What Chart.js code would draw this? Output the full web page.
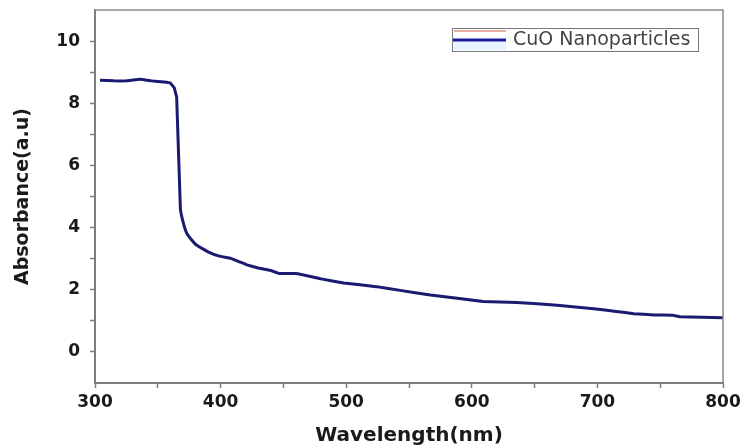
<!DOCTYPE html>
<html>
<head>
<meta charset="utf-8">
<script src="https://cdn.jsdelivr.net/npm/chart.js@4/dist/chart.umd.min.js"></script>
<style>
  html, body { margin: 0; padding: 0; background: #fff; }
  #wrap { width: 742px; height: 448px; }
</style>
</head>
<body>
<div id="wrap"><canvas id="absChart" width="742" height="448"></canvas></div>
<script>
// ── Data ────────────────────────────────────────────────
const wavelengths = [304, 315, 325, 336, 345, 355, 360, 363, 365, 365.5, 366, 366.5, 367, 367.5, 368,
                     370, 373, 377, 381, 390, 399, 408, 415, 421, 430, 440, 447, 460, 480, 498,
                     524, 543, 567, 590, 609, 636, 668, 697, 715, 729, 745, 760, 766, 800];
const absorbance  = [8.74, 8.72, 8.72, 8.77, 8.72, 8.68, 8.65, 8.5, 8.2, 7.6, 7.0, 6.4, 5.8, 5.2, 4.6,
                     4.2, 3.82, 3.6, 3.43, 3.22, 3.08, 3.01, 2.9, 2.8, 2.7, 2.62, 2.52, 2.52, 2.35, 2.22,
                     2.1, 1.98, 1.83, 1.72, 1.62, 1.59, 1.5, 1.39, 1.3, 1.23, 1.19, 1.18, 1.13, 1.1];
const seriesLabel = 'CuO Nanoparticles';

const xTicks = [300, 350, 400, 450, 500, 550, 600, 650, 700, 750, 800];
const xLabels = [300, 400, 500, 600, 700, 800];
const yTicks = [0, 1, 2, 3, 4, 5, 6, 7, 8, 9, 10];
const yLabels = [0, 2, 4, 6, 8, 10];

const axisGray = '#7d7d7d';
const lineColor = '#1a1a70';

// ── Frame + in-plot legend ──────────────────────────────
const framePlugin = {
    id: 'frame',
    afterDraw(chart) {
        const { ctx, chartArea: a } = chart;
        ctx.save();
        ctx.strokeStyle = '#8a8a8a';
        ctx.lineWidth = 1.5;
        ctx.beginPath();
        ctx.moveTo(a.left, a.top);
        ctx.lineTo(a.right, a.top);
        ctx.lineTo(a.right, a.bottom);
        ctx.stroke();

        // legend box
        const bx = 452, by = 28, bw = 246, bh = 23;
        ctx.fillStyle = '#fff';
        ctx.fillRect(bx, by, bw, bh);
        ctx.fillStyle = '#e6f2ff';
        ctx.fillRect(bx + 2, by + 13, 52, bh - 14);
        ctx.strokeStyle = '#d85a50';
        ctx.lineWidth = 1;
        ctx.beginPath();
        ctx.moveTo(bx + 2, by + 3);
        ctx.lineTo(bx + 54, by + 3);
        ctx.stroke();
        ctx.strokeStyle = '#1a1aa0';
        ctx.lineWidth = 3;
        ctx.beginPath();
        ctx.moveTo(bx + 1, by + 12);
        ctx.lineTo(bx + 54, by + 12);
        ctx.stroke();
        ctx.strokeStyle = '#777';
        ctx.lineWidth = 1;
        ctx.strokeRect(bx + 0.5, by + 0.5, bw, bh);
        ctx.fillStyle = '#444';
        ctx.font = '19px "DejaVu Sans"';
        ctx.textBaseline = 'middle';
        ctx.textAlign = 'left';
        ctx.fillText(chart.data.datasets[0].label, 513, by + bh / 2 + 1);
        ctx.restore();
    }
};

new Chart(document.getElementById('absChart'), {
    type: 'line',
    data: {
        datasets: [{
            label: seriesLabel,
            data: wavelengths.map((w, i) => ({ x: w, y: absorbance[i] })),
            borderColor: lineColor,
            borderWidth: 3,
            borderJoinStyle: 'round',
            pointRadius: 0,
            tension: 0.05,
            fill: false,
        }]
    },
    options: {
        responsive: false,
        animation: false,
        layout: { padding: { top: 10, right: 19, left: 0, bottom: 0 } },
        plugins: {
            legend: { display: false },
            tooltip: { enabled: false }
        },
        scales: {
            x: {
                type: 'linear',
                min: 300,
                max: 800,
                afterFit: s => { s.height = 65; s.paddingLeft = 0; s.paddingRight = 0; },
                afterBuildTicks: s => { s.ticks = xTicks.map(v => ({ value: v })); },
                border: { color: axisGray, width: 2 },
                grid: { drawOnChartArea: false, tickLength: 5, color: axisGray, tickWidth: 1.5 },
                ticks: {
                    autoSkip: false,
                    maxRotation: 0,
                    padding: 4,
                    color: '#1a1a1a',
                    font: { family: '"DejaVu Sans"', size: 17, weight: 'bold' },
                    callback: v => xLabels.includes(v) ? String(v) : ''
                },
                title: {
                    display: true,
                    text: 'Wavelength(nm)',
                    color: '#1a1a1a',
                    font: { family: '"DejaVu Sans"', size: 20, weight: 'bold' },
                    padding: { top: 0, bottom: 0 }
                }
            },
            y: {
                min: -1,
                max: 11,
                afterFit: s => { s.width = 95; s.paddingTop = 0; s.paddingBottom = 0; },
                afterBuildTicks: s => { s.ticks = yTicks.map(v => ({ value: v })); },
                border: { color: axisGray, width: 2 },
                grid: { drawOnChartArea: false, tickLength: 5, color: axisGray, tickWidth: 1.5 },
                ticks: {
                    autoSkip: false,
                    padding: 10,
                    color: '#1a1a1a',
                    font: { family: '"DejaVu Sans"', size: 17, weight: 'bold' },
                    callback: v => yLabels.includes(v) ? String(v) : ''
                },
                title: {
                    display: true,
                    text: 'Absorbance(a.u)',
                    color: '#1a1a1a',
                    font: { family: '"DejaVu Sans"', size: 19, weight: 'bold' },
                    padding: { top: 12, bottom: 0 }
                }
            }
        }
    },
    plugins: [framePlugin]
});
</script>
</body>
</html>
